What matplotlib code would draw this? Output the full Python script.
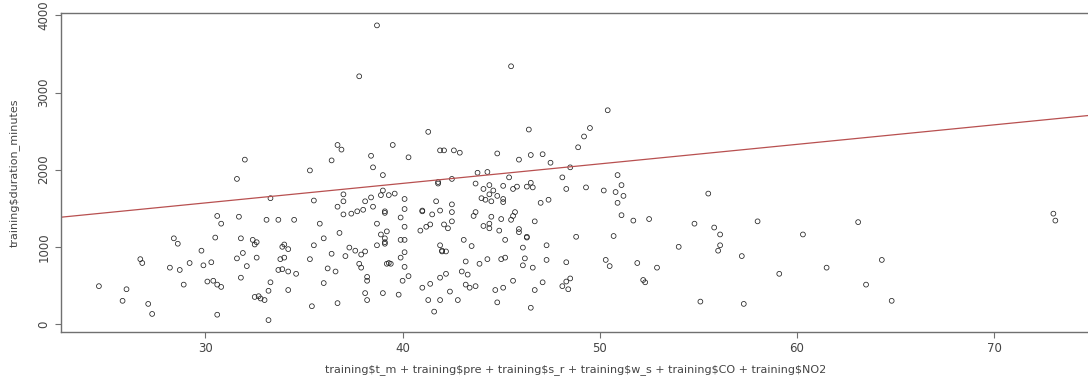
import matplotlib.pyplot as plt

# valores (regresion lineal en R)
x_vals = [
    24.6, 26.0, 25.8, 26.7, 26.8, 27.1, 27.3, 28.4, 28.6, 28.2, 28.7, 28.9, 29.2, 29.8, 29.9,
    30.3, 30.1, 30.4, 30.6, 30.6, 30.5, 30.6, 30.8, 30.8,
    31.6, 35.3, 33.3, 35.5, 37.0, 37.0, 36.7, 39.0, 39.0, 38.9, 39.3, 39.6, 38.1, 38.4, 38.5,
    39.1, 39.1, 37.0, 37.4, 37.7, 38.0, 31.7, 33.1, 33.7, 34.5, 35.8, 38.7, 36.8, 36.0, 38.9,
    39.2, 39.1, 39.1, 39.1, 38.7, 31.8, 32.4, 32.6, 32.5, 34.0, 33.9, 34.2, 35.5, 36.4, 37.3,
    37.6, 38.1, 37.9, 37.1, 31.9, 31.6, 32.6, 33.8, 34.0, 35.3, 37.8, 37.9, 39.2, 39.3, 39.4,
    32.1, 33.7, 33.9, 34.2, 34.6, 36.2, 36.6, 31.8, 33.3, 36.0, 38.2, 38.2, 33.2, 34.2, 32.5,
    32.7, 32.8, 33.0, 38.1, 39.0, 38.2, 36.7, 35.4, 33.2,
    38.7, 37.8, 36.7, 36.9, 39.5, 32.0, 36.4, 38.4, 38.5,
    45.5, 41.3, 46.4, 40.3, 41.9, 42.1, 42.6, 42.9, 44.8, 45.9, 46.5, 47.1, 47.5, 43.8, 44.3, 48.5,
    41.8, 41.8, 42.5, 43.7, 44.4, 45.4, 45.1, 45.6, 45.8, 46.3, 46.5, 46.6, 48.1, 48.3, 40.1,
    44.1, 44.6, 44.4, 44.8, 44.0, 44.2, 44.5, 45.1, 45.1, 47.0, 47.4, 41.7, 42.5, 40.1, 41.0,
    41.0, 41.5, 41.9, 42.5, 39.9, 43.7, 43.6, 44.5, 45.0, 45.5, 45.6, 45.7, 46.7, 40.1, 40.9,
    41.2, 41.4, 42.1, 42.3, 42.5, 44.1, 44.4, 44.4, 44.9, 45.9, 45.9, 46.3, 46.3, 39.9, 40.1,
    45.2, 43.1, 41.9, 43.5, 46.1, 47.3, 40.1, 42.0, 42.0, 42.2, 39.9, 40.1, 43.2, 43.9, 44.3,
    45.0, 45.2, 46.2, 47.3, 48.3, 46.1, 46.6, 40.3, 40.0, 41.9, 42.2, 43.0, 43.3, 45.6, 47.1,
    48.3, 48.5, 41.0, 41.4, 43.2, 43.4, 43.7, 42.4, 44.7, 45.1, 46.7, 48.1, 48.4, 39.8, 41.3,
    41.9, 42.8, 44.8, 41.6, 46.5,
    50.4, 49.5, 49.2, 48.9,
    50.9, 51.1, 49.3, 50.2, 50.8, 51.2, 50.9, 55.5, 51.1, 51.7, 52.5, 54.8, 55.8, 56.1, 48.8,
    50.7, 54.0, 56.1, 56.0, 57.2, 50.3, 50.5, 51.9, 52.9, 52.2, 52.3, 55.1, 57.3,
    58.0, 60.3, 63.1, 59.1, 61.5, 64.3, 63.5, 64.8,
    73.0, 73.1,
]
y_vals = [
    490, 450, 300, 840, 790, 260, 130, 1110, 1040, 730, 700, 510, 790, 950, 760,
    800, 550, 560, 510, 1400, 1120, 120, 1300, 480,
    1880, 1990, 1630, 1600, 1680, 1590, 1520, 1930, 1730, 1670, 1670, 1690, 1590, 1640, 1520,
    1440, 1460, 1420, 1430, 1460, 1480, 1390, 1350, 1350, 1350, 1300, 1300, 1180, 1110, 1160,
    1200, 1110, 1040, 1060, 1020, 1110, 1090, 1060, 1030, 1030, 1000, 970, 1020, 910, 990,
    950, 940, 900, 880, 920, 850, 860, 840, 860, 840, 780, 730, 780, 790, 780,
    750, 700, 710, 680, 650, 720, 680, 600, 540, 530, 610, 560, 430, 440, 350,
    360, 330, 310, 400, 400, 310, 270, 230, 50,
    3870, 3210, 2320, 2260, 2320, 2130, 2120, 2180, 2030,
    3340, 2490, 2520, 2160, 2250, 2250, 2250, 2220, 2210, 2130, 2190, 2200, 2090, 1960, 1970, 2030,
    1840, 1820, 1880, 1820, 1800, 1900, 1790, 1750, 1780, 1780, 1830, 1770, 1900, 1750, 1620,
    1750, 1730, 1680, 1660, 1630, 1610, 1590, 1620, 1580, 1570, 1610, 1590, 1550, 1490, 1460,
    1470, 1420, 1470, 1450, 1380, 1450, 1400, 1390, 1360, 1350, 1400, 1450, 1330, 1260, 1210,
    1260, 1290, 1290, 1240, 1330, 1270, 1300, 1240, 1210, 1230, 1190, 1120, 1130, 1090, 1090,
    1090, 1090, 1020, 1010, 990, 1020, 930, 950, 940, 940, 860, 740, 810, 780, 840,
    840, 860, 850, 830, 800, 760, 730, 620, 560, 600, 650, 680, 640, 560, 540,
    550, 590, 470, 520, 510, 470, 490, 420, 440, 470, 440, 490, 450, 380, 310,
    310, 310, 280, 160, 210,
    2770, 2540, 2430, 2290,
    1930, 1800, 1770, 1730, 1710, 1660, 1570, 1690, 1410, 1340, 1360, 1300, 1250, 1160, 1130,
    1140, 1000, 1020, 950, 880, 830, 750, 790, 730, 570, 540, 290, 260,
    1330, 1160, 1320, 650, 730, 830, 510, 300,
    1430, 1340,
]
# abline(lm(...)) : intercepto y pendiente
intercepto = 810
pendiente = 25.3

x_ticks = [30, 40, 50, 60, 70]
y_ticks = [0, 1000, 2000, 3000, 4000]

fig = plt.figure(figsize=(10.88, 3.77), dpi=100)
ax = fig.add_axes([0.0561, 0.1194, 0.9458, 0.8462])

ax.scatter(x_vals, y_vals, s=12, facecolors='none', edgecolors='#222222', linewidths=0.55)
ax.axline((0, intercepto), slope=pendiente, color='#b85050', linewidth=0.9)

ax.set_xlim(22.68, 74.86)
ax.set_ylim(-104, 4031)
ax.set_xticks(x_ticks)
ax.set_yticks(y_ticks)
ax.set_yticklabels([str(v) for v in y_ticks], rotation=90, va='center')

for s in ax.spines.values():
    s.set_color('#707070')
    s.set_linewidth(1.0)
ax.tick_params(colors='#707070', labelcolor='#444444', labelsize=8.5, length=4, width=0.8)

ax.set_xlabel(r'training\$t_m + training\$pre + training\$s_r + training\$w_s + training\$CO + training\$NO2',
              fontsize=8, color='#444444', labelpad=6)
ax.set_ylabel(r'training\$duration_minutes', fontsize=8, color='#444444', labelpad=13)

plt.savefig('out.png', dpi=100)
